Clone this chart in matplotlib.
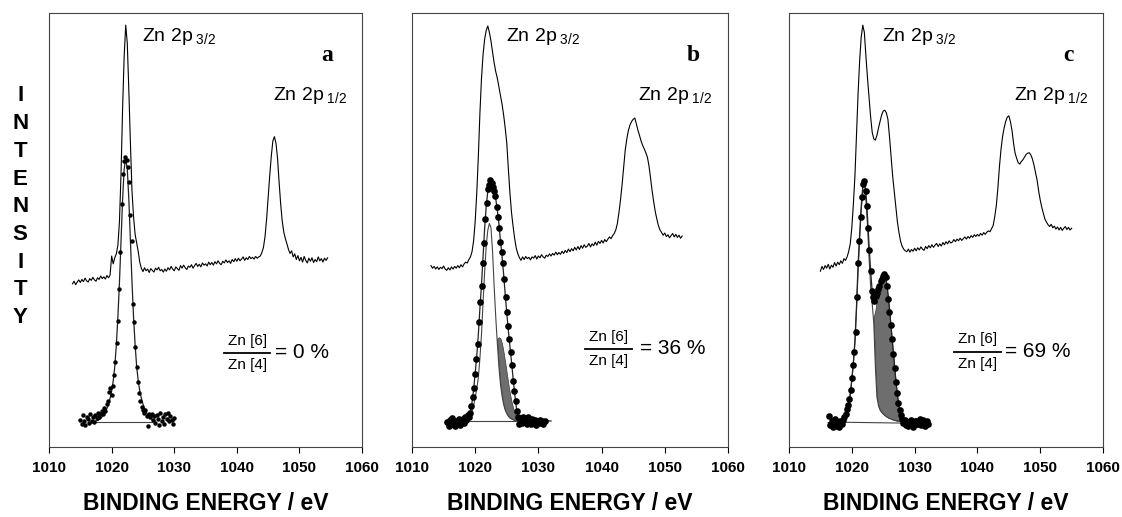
import numpy as np
import matplotlib
matplotlib.use("Agg")
import matplotlib.pyplot as plt
from matplotlib.lines import Line2D

plt.rcParams['font.family'] = ['Liberation Sans', 'DejaVu Sans']
plt.rcParams['mathtext.fontset'] = 'custom'
plt.rcParams['mathtext.rm'] = 'Liberation Sans'
plt.rcParams['mathtext.it'] = 'Liberation Sans'
plt.rcParams['mathtext.bf'] = 'Liberation Sans:bold'

# ---------------- data ----------------
# energies are sampled on a regular grid: start + step * index
x_ticks = [1010, 1020, 1030, 1040, 1050, 1060]
panel_tags = ['a', 'b', 'c']
ratio_text = ['= 0 %', '= 36 %', '= 69 %']

# panel a : raw spectrum (top), start 1013.75 eV, step 0.25 eV
top_a = [37.6, 38.2, 37.4, 38.0, 38.5, 37.9, 38.6, 38.1, 38.9, 38.3, 38.0, 38.8, 38.4, 39.1, 38.5, 38.2,
         39.0, 38.6, 39.4, 38.8, 39.2, 38.7, 39.5, 39.0, 39.6, 44.0, 42.2, 43.6, 44.5, 46.5, 52.0, 63.0,
         78.0, 90.0, 97.2, 93.0, 82.0, 70.0, 59.0, 53.0, 49.0, 47.0, 45.0, 42.5, 41.2, 40.4, 41.3, 40.6,
         41.0, 40.2, 41.1, 40.7, 40.3, 41.2, 40.8, 41.4, 40.6, 40.9, 40.3, 41.0, 40.5, 41.3, 40.8, 41.6,
         41.0, 40.6, 41.5, 41.1, 40.7, 41.8, 41.2, 41.9, 41.3, 40.9, 41.7, 41.4, 42.0, 41.2, 41.8, 42.3,
         41.6, 42.1, 41.5, 42.4, 41.9, 42.2, 41.7, 42.6, 42.0, 42.5, 41.9, 42.7, 42.2, 42.9, 42.3, 42.0,
         42.8, 42.4, 43.1, 42.5, 42.9, 42.3, 43.2, 42.7, 43.4, 42.8, 43.5, 42.9, 43.3, 43.8, 43.0, 43.6,
         43.2, 43.9, 43.4, 43.7, 43.3, 43.9, 43.5, 43.8, 44.0, 44.8, 46.0, 48.5, 52.5, 57.5, 62.5, 67.0,
         70.5, 71.5, 70.0, 66.5, 61.0, 56.0, 52.0, 49.5, 48.0, 46.8, 45.5, 44.6, 45.2, 43.8, 44.5, 43.2,
         44.1, 42.9, 43.7, 42.6, 43.9, 43.0, 42.4, 43.5, 42.8, 43.6, 42.5, 43.2, 42.7, 43.8, 42.9, 43.4,
         42.6, 43.5, 43.0, 43.6]
# panel a : measured points (start 1015.0, step 0.2)
dots_a = [6.2, 5.3, 7.4, 6.0, 5.1, 7.0, 6.4, 5.5, 7.6, 6.1, 6.9, 5.8, 7.3, 6.6, 7.8, 6.8,
          7.5, 8.3, 7.6, 9.1, 8.4, 9.8, 10.5, 12.7, 13.5, 12.0, 14.0, 16.5, 19.5, 24.0, 29.0, 36.5,
          45.0, 56.0, 63.0, 66.0, 66.8, 66.2, 64.5, 61.0, 53.5, 47.5, 33.0, 28.8, 23.0, 18.5, 15.0, 12.5,
          10.5, 9.2, 8.5, 7.9, 8.6, 7.2, 4.9, 7.6, 6.8, 7.7, 6.3, 7.1, 5.6, 7.4, 6.5, 5.0,
          7.8, 6.1, 7.0, 5.4, 7.6, 6.4, 7.9, 5.9, 7.1, 6.2, 5.2, 6.6]
# panel a : fitted curve (start 1017.25, step 0.25)
fit_a = [5.9, 6.0, 6.1, 6.3, 6.6, 7.0, 7.5, 8.1, 8.9, 9.9, 11.2, 12.9, 15.2, 18.5, 23.5, 30.0,
         38.0, 47.5, 57.0, 64.0, 66.5, 64.0, 57.0, 47.5, 38.0, 30.0, 23.5, 18.5, 15.2, 12.9, 11.2, 9.9,
         8.9, 8.1, 7.5, 7.0, 6.6, 6.3, 6.1, 6.0]
base_a_e = [1017.3, 1026.4]
base_a_y = [5.8, 5.8]

# panel b : raw spectrum (start 1013.0, step 0.25)
top_b = [41.8, 41.2, 41.6, 41.0, 41.5, 40.9, 41.4, 41.1, 41.7, 41.0, 40.7, 41.3, 40.8, 41.5, 41.0, 41.6,
         41.2, 41.8, 41.3, 42.0, 41.5, 42.2, 42.6, 42.4, 43.2, 43.8, 45.0, 47.5, 52.0, 58.5, 67.0, 77.0,
         85.0, 90.5, 94.0, 96.0, 97.0, 95.5, 93.5, 91.0, 88.5, 86.5, 85.0, 83.0, 81.0, 79.0, 76.5, 73.5,
         70.0, 64.0, 58.5, 54.0, 50.8, 48.0, 45.8, 44.5, 43.6, 43.0, 43.8, 43.2, 43.9, 43.4, 43.7, 43.1,
         43.8, 43.5, 44.1, 43.3, 44.0, 43.6, 44.3, 43.8, 43.5, 44.2, 43.9, 44.5, 44.0, 44.6, 44.2, 44.9,
         44.3, 44.8, 44.4, 45.1, 44.6, 45.3, 44.8, 45.6, 45.0, 45.7, 45.2, 46.0, 45.4, 46.2, 45.5, 46.4,
         45.8, 46.6, 46.0, 46.3, 46.9, 46.1, 46.8, 46.4, 47.2, 46.5, 47.4, 46.9, 47.6, 47.0, 47.8, 47.3,
         47.9, 48.4, 48.0, 48.7, 49.2, 50.0, 51.5, 54.0, 57.0, 60.5, 64.5, 68.5, 71.0, 73.0, 74.2, 75.0,
         75.5, 75.8, 74.5, 73.0, 71.8, 70.5, 69.5, 68.7, 67.8, 66.8, 64.8, 62.0, 59.0, 56.5, 54.2, 52.5,
         51.0, 50.0, 49.4, 48.8, 49.3, 48.5, 48.9, 48.2, 48.7, 49.2, 48.4, 49.0, 48.3, 48.8, 48.1, 48.6]
# panel b : measured points (start 1015.6, step 0.2)
dots_b = [5.8, 4.9, 6.3, 5.2, 6.6, 5.5, 4.8, 6.0, 5.4, 6.4, 5.1, 5.9, 6.5, 5.6, 6.8, 6.2,
          7.4, 6.9, 7.9, 9.4, 11.5, 13.6, 16.8, 20.2, 23.8, 28.9, 33.5, 37.2, 42.5, 47.0, 52.5, 56.2,
          59.5, 60.4, 61.5, 60.8, 60.0, 59.0, 57.8, 55.2, 53.0, 50.5, 47.2, 45.0, 42.3, 38.6, 34.5, 31.0,
          27.8, 24.8, 22.0, 18.8, 15.2, 12.8, 10.6, 8.2, 7.0, 5.2, 6.4, 5.5, 6.8, 5.7, 6.3, 5.3,
          6.9, 6.1, 5.4, 6.5, 5.8, 6.2, 5.1, 6.0, 5.5, 6.3, 5.6, 6.1, 5.3, 5.9]
# panel b : envelope of the fit (start 1015.5, step 0.25)
fit_b = [6.0, 6.0, 6.0, 6.0, 6.0, 6.0, 6.0, 6.1, 6.1, 6.2, 6.3, 6.5, 6.8, 6.5, 7.0, 8.3,
         10.3, 13.2, 17.0, 21.0, 26.0, 32.0, 37.5, 44.0, 50.5, 55.5, 59.0, 60.7, 61.0, 60.5, 59.5, 57.2,
         54.6, 51.5, 47.5, 44.0, 39.8, 35.2, 30.8, 26.8, 23.2, 19.6, 15.8, 12.3, 9.2, 7.4, 6.6, 6.2,
         6.0, 6.0, 6.0, 6.0, 6.0, 6.0, 6.0, 6.0, 6.0, 6.0, 6.0, 6.0, 6.0, 6.0, 6.0, 6.0,
         6.0, 6.0, 6.0]
# panel b : Zn[4] and Zn[6] components (start 1018.75, step 0.25)
comp1_b = [6.2, 6.6, 7.3, 8.3, 9.6, 11.3, 13.5, 16.0, 20.5, 26.0, 33.5, 40.5, 46.5, 50.0, 51.5, 50.5,
           45.0, 37.0, 30.0, 24.0, 18.5, 14.5, 11.8, 9.8, 8.5, 7.7, 7.1, 6.7, 6.5, 6.3, 6.2, 6.1,
           6.0, 6.0, 6.0]
comp2_b = [6.0, 6.0, 6.0, 6.1, 6.1, 6.2, 6.4, 6.7, 7.2, 8.0, 9.2, 10.8, 12.8, 15.0, 17.3, 19.5,
           21.5, 23.0, 24.2, 25.0, 25.3, 25.0, 23.8, 21.8, 19.5, 17.0, 14.5, 12.3, 10.5, 9.0, 7.9, 7.1,
           6.5, 6.1, 6.0]
base_b_e = [1018.9, 1026.8]
base_b_y = [6.0, 6.0]

# panel c : raw spectrum (start 1015.0, step 0.25)
top_c = [40.5, 41.6, 40.9, 41.8, 41.2, 42.1, 41.0, 41.9, 41.4, 42.5, 41.7, 42.6, 42.0, 42.9, 42.3, 43.4,
         43.0, 43.8, 45.0, 46.8, 50.5, 56.0, 62.5, 72.0, 81.5, 89.0, 94.5, 97.2, 95.5, 90.0, 85.0, 80.5,
         76.0, 72.5, 71.0, 70.7, 71.8, 73.5, 75.0, 76.5, 77.4, 77.6, 77.0, 75.5, 71.5, 67.0, 62.5, 59.0,
         55.5, 52.0, 49.5, 47.5, 46.3, 45.6, 45.2, 45.0, 45.6, 44.9, 45.5, 45.1, 45.8, 45.2, 45.9, 45.4,
         46.1, 45.6, 45.3, 46.2, 45.7, 46.4, 45.9, 46.6, 46.0, 46.5, 46.9, 46.2, 46.8, 46.3, 47.1, 46.6,
         47.3, 46.8, 47.5, 47.0, 47.2, 47.8, 47.3, 47.9, 47.5, 48.1, 47.6, 48.0, 48.4, 47.9, 48.5, 48.1,
         48.7, 48.3, 48.9, 48.5, 49.0, 48.6, 49.2, 48.8, 49.4, 49.0, 49.5, 49.8, 49.6, 50.3, 51.0, 53.0,
         55.5, 59.5, 64.5, 68.5, 71.5, 73.5, 75.0, 76.0, 76.3, 75.0, 73.0, 70.0, 67.7, 66.5, 65.5, 65.2,
         65.8, 66.2, 66.8, 67.4, 67.7, 67.8, 67.3, 66.4, 65.0, 63.3, 61.5, 59.0, 56.9, 55.2, 53.8, 52.5,
         51.8, 51.2, 50.8, 51.3, 50.5, 50.9, 50.2, 50.7, 50.0, 50.6, 49.9, 50.4, 50.8, 50.1, 50.6, 50.0,
         50.4]
# panel c : measured points (start 1016.4, step 0.2)
dots_c = [7.2, 5.0, 6.1, 4.6, 5.7, 6.4, 4.9, 5.8, 4.7, 6.0, 5.3, 6.3, 7.0, 7.6, 8.8, 9.6,
          11.0, 13.2, 15.8, 18.8, 21.8, 26.5, 34.5, 42.5, 47.5, 53.0, 57.5, 60.5, 61.2, 59.0, 55.5, 50.5,
          45.5, 40.5, 36.0, 34.5, 33.6, 34.8, 35.5, 36.4, 37.0, 38.2, 38.6, 39.3, 39.8, 39.2, 37.0, 34.0,
          31.0, 28.0, 24.8, 21.5, 18.2, 15.0, 12.5, 10.2, 8.5, 7.4, 6.5, 5.6, 6.2, 5.1, 5.8, 4.8,
          5.5, 6.3, 5.0, 4.5, 5.9, 5.2, 6.0, 5.4, 6.4, 5.1, 5.7, 6.2, 4.9, 5.6, 6.1, 5.3]
# panel c : envelope of the fit (start 1016.25, step 0.25)
fit_c = [5.6, 5.6, 5.6, 5.6, 5.6, 5.7, 5.7, 5.8, 6.0, 6.3, 6.7, 7.3, 8.3, 9.8, 12.2, 15.5,
         19.5, 24.5, 32.5, 42.0, 49.0, 55.5, 60.0, 61.0, 58.8, 53.0, 46.5, 40.5, 35.8, 33.8, 34.3, 35.4,
         36.5, 37.5, 38.4, 39.1, 39.5, 38.4, 35.5, 31.8, 27.8, 23.6, 19.5, 15.5, 12.0, 9.5, 7.8, 6.8,
         6.2, 5.9, 5.7, 5.6, 5.6, 5.6, 5.6, 5.6, 5.6, 5.6, 5.6, 5.6, 5.6, 5.6, 5.6, 5.6,
         5.6]
# panel c : Zn[4] and Zn[6] components (start 1018.5, step 0.25)
comp1_c = [6.2, 6.6, 7.2, 8.2, 9.6, 12.0, 15.2, 19.2, 24.0, 31.5, 40.5, 48.0, 54.5, 58.8, 59.5, 57.0,
           51.0, 43.5, 37.0, 33.0, 28.5, 18.5, 11.5, 9.5, 8.5, 8.0, 7.6, 7.3, 7.0, 6.8, 6.6, 6.5,
           6.3, 6.2, 6.1, 6.0, 6.0, 5.9, 5.9, 5.8, 5.8]
comp2_c = [5.8, 5.8, 5.8, 5.9, 5.9, 6.0, 6.1, 6.3, 6.6, 7.0, 7.6, 8.5, 9.8, 11.5, 13.8, 16.5,
           19.5, 22.5, 25.5, 28.0, 30.0, 31.5, 34.0, 35.8, 37.0, 37.9, 38.5, 38.6, 37.5, 34.6, 31.0, 27.0,
           23.0, 19.0, 15.0, 11.6, 9.2, 7.6, 6.7, 6.1, 5.8]
base_c_e = [1018.9, 1028.7]
base_c_y = [5.7, 5.5]


def energy(start, step, vals):
    return start + step * np.arange(len(vals))


panels = [
    dict(top=(1013.75, 0.25, top_a), dots=(1015.0, 0.2, dots_a), fit=(1017.25, 0.25, fit_a),
         comp=None, base=(base_a_e, base_a_y), ms=3.2),
    dict(top=(1013.0, 0.25, top_b), dots=(1015.6, 0.2, dots_b), fit=(1015.5, 0.25, fit_b),
         comp=(1018.75, 0.25, comp1_b, comp2_b), base=(base_b_e, base_b_y), ms=4.8),
    dict(top=(1015.0, 0.25, top_c), dots=(1016.4, 0.2, dots_c), fit=(1016.25, 0.25, fit_c),
         comp=(1018.5, 0.25, comp1_c, comp2_c), base=(base_c_e, base_c_y), ms=4.8),
]

# ---------------- figure ----------------
fig = plt.figure(figsize=(11.22, 5.17), dpi=100)
ax_pos = [[0.0437, 0.1354, 0.2790, 0.8395],
          [0.3672, 0.1354, 0.2816, 0.8395],
          [0.7032, 0.1354, 0.2799, 0.8395]]
frac_pos = [(0.633, 0.217, 0.722), (0.623, 0.226, 0.721), (0.600, 0.220, 0.688)]

for i, p in enumerate(panels):
    ax = fig.add_axes(ax_pos[i])
    # raw spectrum
    e = energy(*p['top'][:2], p['top'][2])
    ax.plot(e, p['top'][2], color='black', lw=0.8)
    # baseline of the fit
    ax.plot(p['base'][0], p['base'][1], color='#444444', lw=0.8)
    # components
    if p['comp'] is not None:
        ec = energy(p['comp'][0], p['comp'][1], p['comp'][2])
        c1 = np.array(p['comp'][2])
        c2 = np.array(p['comp'][3])
        ax.fill_between(ec, c1, c2, where=c2 > c1, interpolate=True,
                        facecolor='#6e6e6e', edgecolor='#3a3a3a', lw=0.5)
        ax.plot(ec, c1, color='#444444', lw=0.8)
    # fit envelope
    ef = energy(p['fit'][0], p['fit'][1], p['fit'][2])
    ax.plot(ef, p['fit'][2], color='#222222', lw=0.9)
    # measured points
    ed = energy(p['dots'][0], p['dots'][1], p['dots'][2])
    ax.plot(ed, p['dots'][2], 'o', color='black', ms=p['ms'], mew=0)

    ax.set_xlim(1010, 1060)
    ax.set_ylim(0, 100)
    ax.set_xticks(x_ticks)
    ax.set_xticklabels([str(t) for t in x_ticks], fontsize=11, fontweight='bold')
    ax.set_yticks([])
    ax.tick_params(axis='x', direction='out', length=4, width=0.8, pad=6)
    for s in ax.spines.values():
        s.set_color('#444444')
        s.set_linewidth(0.8)
    ax.set_xlabel('BINDING ENERGY / eV', fontsize=16.5, fontweight='bold', labelpad=12)

    # peak labels
    ax.text(1024.8, 94.5, r'Zn 2p$_{\ 3/2}$', fontsize=14, va='center', ha='left')
    ax.text(1045.8, 81.0, r'Zn 2p$_{\ 1/2}$', fontsize=14, va='center', ha='left')
    ax.text(1054.5, 90.3, panel_tags[i], fontsize=17, fontweight='bold',
            family='Liberation Serif', ha='center', va='center')

    # Zn[6]/Zn[4] ratio
    fx, fy, rx = frac_pos[i]
    ax.text(fx, fy + 0.012, 'Zn [6]', transform=ax.transAxes, fontsize=11,
            ha='center', va='bottom')
    ax.text(fx, fy - 0.012, 'Zn [4]', transform=ax.transAxes, fontsize=11,
            ha='center', va='top')
    ax.add_line(Line2D([fx - 0.074, fx + 0.074], [fy, fy], transform=ax.transAxes,
                       color='black', lw=1.3))
    ax.text(rx, fy, ratio_text[i], transform=ax.transAxes, fontsize=15,
            ha='left', va='center')

fig.text(0.018, 0.60, 'I\nN\nT\nE\nN\nS\nI\nT\nY', fontsize=16, fontweight='bold',
         ha='center', va='center', linespacing=1.42)

fig.savefig('out.png', dpi=100)
